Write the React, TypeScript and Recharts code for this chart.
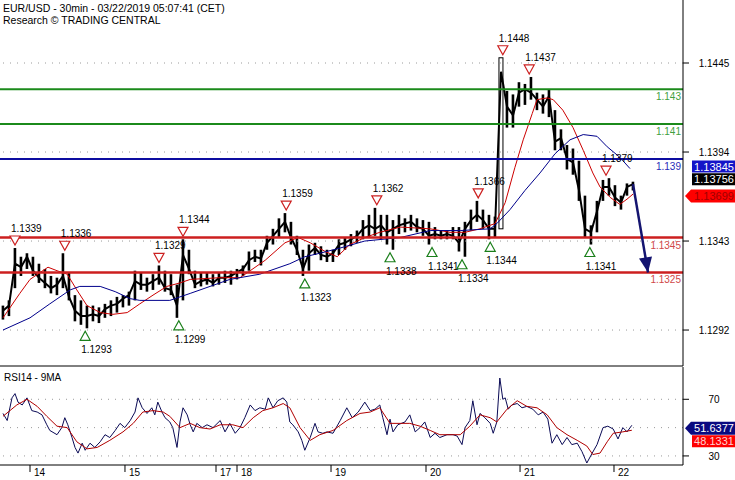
import React from 'react';
import { ComposedChart, Bar, Line, Scatter, XAxis, YAxis, ReferenceLine } from 'recharts';

const FONT = '"Liberation Sans", Arial, sans-serif';

// x unit: one slot = 3 half-hour candles
const SLOT_DOMAIN: [number, number] = [-0.5, 113.33];
const PRICE_DOMAIN: [number, number] = [1.12714, 1.14811];
const RSI_DOMAIN: [number, number] = [23.6, 92.8];

const priceHigh = [
  1.1306, 1.1309, 1.1339, 1.1334, 1.1336, 1.1334, 1.133, 1.1327, 1.1323, 1.1322,
  1.1336, 1.1325, 1.1312, 1.1309, 1.1306, 1.1306, 1.1305, 1.1307, 1.1309, 1.1311,
  1.1312, 1.1314, 1.1326, 1.1325, 1.1322, 1.1324, 1.1329, 1.1326, 1.1324, 1.1318,
  1.1344, 1.1338, 1.1326, 1.1325, 1.1325, 1.1324, 1.1325, 1.1326, 1.1326, 1.1327,
  1.1329, 1.1337, 1.1338, 1.1338, 1.1346, 1.135, 1.1356, 1.1359, 1.1354, 1.1346,
  1.1338, 1.1341, 1.1342, 1.134, 1.1338, 1.1338, 1.1344, 1.1345, 1.1347, 1.1349,
  1.1355, 1.1358, 1.1362, 1.1358, 1.1358, 1.1355, 1.1358, 1.1356, 1.1358, 1.1356,
  1.1355, 1.1354, 1.1351, 1.1349, 1.1349, 1.1351, 1.1351, 1.1354, 1.1361, 1.1366,
  1.1361, 1.1358, 1.1357, 1.1448, 1.1429, 1.1427, 1.1434, 1.1433, 1.1437, 1.1428,
  1.1427, 1.143, 1.1418, 1.1407, 1.1398, 1.1396, 1.1389, 1.1369, 1.1352, 1.1366,
  1.1378, 1.1379, 1.1375, 1.1369, 1.1376, 1.1377,
];
const priceLow = [
  1.1298, 1.13, 1.1316, 1.1323, 1.1327, 1.1323, 1.1319, 1.1316, 1.1313, 1.1312,
  1.1316, 1.1309, 1.1297, 1.1295, 1.1293, 1.1297, 1.1296, 1.1299, 1.13, 1.1302,
  1.1305, 1.1306, 1.1309, 1.1315, 1.1314, 1.1315, 1.1318, 1.1314, 1.1312, 1.1299,
  1.1309, 1.1324, 1.1316, 1.1317, 1.1318, 1.1317, 1.1318, 1.1319, 1.1318, 1.1321,
  1.1323, 1.1326, 1.1331, 1.1329, 1.1338, 1.1341, 1.1345, 1.1348, 1.1341, 1.1335,
  1.1323, 1.1326, 1.1335, 1.1332, 1.1331, 1.1331, 1.1335, 1.1338, 1.134, 1.1342,
  1.1344, 1.1345, 1.1346, 1.1344, 1.1341, 1.1338, 1.1347, 1.1348, 1.1349, 1.1348,
  1.1346, 1.1341, 1.1344, 1.1344, 1.1344, 1.1344, 1.1337, 1.1334, 1.1349, 1.1354,
  1.135, 1.1344, 1.1345, 1.135, 1.1408, 1.1408, 1.142, 1.1421, 1.1424, 1.1418,
  1.1416, 1.1414, 1.1395, 1.1395, 1.1384, 1.1381, 1.1366, 1.1345, 1.1341, 1.1348,
  1.1366, 1.1369, 1.1363, 1.1361, 1.1369, 1.1372,
];
const priceClose = [
  1.1303, 1.1306, 1.133, 1.1328, 1.1334, 1.1326, 1.1322, 1.1319, 1.1316, 1.1318,
  1.1323, 1.1311, 1.1303, 1.13, 1.13, 1.1301, 1.13, 1.1304, 1.1306, 1.1307,
  1.131, 1.1312, 1.132, 1.1318, 1.1318, 1.132, 1.1322, 1.1316, 1.1315, 1.1306,
  1.1335, 1.1327, 1.1318, 1.132, 1.1321, 1.1319, 1.1322, 1.1322, 1.1323, 1.1325,
  1.1327, 1.1332, 1.1334, 1.1333, 1.1342, 1.1346, 1.135, 1.1354, 1.1345, 1.1338,
  1.1327, 1.1336, 1.1339, 1.1335, 1.1334, 1.1336, 1.1341, 1.1342, 1.1344, 1.1346,
  1.135, 1.1352, 1.135, 1.1352, 1.1348, 1.135, 1.1352, 1.1353, 1.1354, 1.1351,
  1.135, 1.1346, 1.1347, 1.1346, 1.1347, 1.1346, 1.1342, 1.135, 1.1355, 1.1358,
  1.1355, 1.135, 1.135, 1.144, 1.142, 1.1415, 1.1428, 1.143, 1.1428, 1.1424,
  1.142, 1.1426, 1.14, 1.1402, 1.139, 1.1388, 1.1372, 1.135, 1.1348, 1.136,
  1.1374, 1.1374, 1.1368, 1.1365, 1.1374, 1.13756,
];

const redMA: [number, number][] = [
  [0, 1.1299], [2.8, 1.1313], [4.5, 1.1321], [6.2, 1.1325], [7.5, 1.1328], [9, 1.1326],
  [10.7, 1.1324], [12.3, 1.1315], [14, 1.1306], [16.2, 1.1302], [18.3, 1.1301], [20.7, 1.1302],
  [22.8, 1.1307], [25, 1.1312], [27.3, 1.1317], [29.5, 1.1319], [31.2, 1.1321], [36.2, 1.1322],
  [39.5, 1.1322], [41.2, 1.1326], [43.7, 1.1332], [47, 1.1342], [49.2, 1.1345], [51.2, 1.1342],
  [53.7, 1.1337], [55.7, 1.1334], [57.8, 1.1341], [60.3, 1.1345], [62.8, 1.1348], [66.2, 1.1351],
  [71.2, 1.135], [74.5, 1.1348], [77, 1.1348], [79.5, 1.135], [82, 1.1353], [83.7, 1.1365],
  [85.3, 1.1385], [86.7, 1.1401], [88.2, 1.1416], [89, 1.1424], [90.7, 1.1425], [91.7, 1.1424],
  [93.3, 1.1418], [95, 1.1408], [96.7, 1.1395], [98.3, 1.1382], [99.5, 1.1374], [101.2, 1.1368],
  [102.8, 1.1364], [104, 1.1367], [105, 1.13699],
];
const blueMA: [number, number][] = [
  [0, 1.1292], [4.5, 1.1299], [7.8, 1.1307], [9.5, 1.1311], [11.2, 1.1315], [12.8, 1.1317],
  [16.2, 1.1317], [18.7, 1.1314], [21.2, 1.131], [22.8, 1.1309], [27.8, 1.1309], [31.2, 1.1313],
  [34.5, 1.1317], [37.8, 1.1321], [42.8, 1.1324], [47.8, 1.133], [50.3, 1.1334], [52.8, 1.1336],
  [56.2, 1.1339], [60.3, 1.1343], [66.2, 1.1345], [71.2, 1.1349], [76.2, 1.1349], [81.2, 1.135],
  [82.3, 1.1353], [84.5, 1.1361], [87, 1.1372], [89.5, 1.1382], [92, 1.1393], [94.5, 1.1401],
  [96.7, 1.1404], [99, 1.1403], [100.7, 1.1397], [102.8, 1.1391], [104.5, 1.13845],
];

const peaks: [number, number][] = [
  [2, 1.1339], [10.3, 1.1336], [26, 1.1329], [30, 1.1344], [47.2, 1.1359],
  [62.3, 1.1362], [79.2, 1.1366], [83.3, 1.1448], [87.7, 1.1437], [100.5, 1.1379],
];
const troughs: [number, number][] = [
  [13.7, 1.1293], [29.3, 1.1299], [50.3, 1.1323], [64.5, 1.1338],
  [71.5, 1.1341], [76.5, 1.1334], [81.2, 1.1344], [97.8, 1.1341],
];

const greenLevels = [1.143, 1.141];
const blueLevels = [1.139];
const redLevels = [1.1345, 1.1325];
const projection: [number, number][] = [[105, 1.13756], [107.5, 1.1325]];

const priceTicks = [1.1292, 1.1343, 1.1394, 1.1445];
const lastBlueMA = 1.13845;
const lastClose = 1.13756;
const lastRedMA = 1.13699;

const rsi: [number, number][] = [
  [0, 60], [0.7, 55], [1.5, 71], [2, 74], [2.5, 68], [3.2, 66], [4, 71], [4.8, 62], [5.7, 61],
  [6.5, 59], [7.3, 52], [7.8, 48], [9, 45], [9.8, 50], [10.3, 57], [10.8, 52], [11.5, 43],
  [12, 36], [12.5, 32], [13.2, 39], [13.7, 34], [14.5, 39], [15.3, 36], [16.2, 40], [17, 45],
  [17.8, 43], [18.7, 48], [19.5, 53], [20.3, 50], [21.2, 55], [22, 61], [22.5, 71], [23.2, 64],
  [24, 60], [24.8, 64], [25.3, 59], [25.8, 68], [26.5, 61], [27, 57], [27.8, 54], [28.3, 50],
  [29, 36], [29.5, 54], [30, 64], [30.7, 59], [31.2, 52], [31.7, 47], [32.3, 53], [33.2, 50],
  [34, 52], [35, 50], [36.2, 55], [37, 47], [37.8, 53], [38.7, 46], [39.5, 50], [40.3, 57],
  [41.2, 66], [42, 62], [42.8, 64], [43.7, 63], [44.2, 71], [45, 64], [45.8, 69], [46.7, 71],
  [47.3, 68], [47.8, 54], [48.3, 52], [49.2, 47], [49.8, 41], [50.3, 34], [51.2, 43], [52, 53],
  [52.5, 47], [53.3, 46], [54, 47], [55, 46], [56.2, 55], [57.3, 64], [58.2, 57], [59.2, 61],
  [60.3, 68], [61.2, 62], [62, 63], [62.8, 66], [63.3, 57], [64, 45], [64.5, 56], [65, 47],
  [65.8, 52], [67, 54], [67.8, 59], [68.7, 47], [69.5, 50], [70.3, 54], [71.2, 43], [72, 46],
  [72.8, 43], [74, 45], [75, 45], [75.7, 44], [76.5, 38], [77, 50], [77.8, 55], [78.3, 69],
  [79, 52], [79.5, 60], [80.3, 57], [81.2, 53], [81.7, 46], [82.3, 54], [82.8, 85], [83.3, 70],
  [83.7, 71], [84.2, 63], [84.8, 66], [85.7, 67], [86.5, 64], [87.3, 65], [88.3, 63], [89.2, 59],
  [90, 61], [90.8, 56], [91.5, 39], [92.3, 45], [93.2, 38], [94, 43], [94.8, 38], [95.7, 39],
  [96.5, 33], [97.3, 25], [98.2, 32], [99, 38], [100, 50], [100.8, 51], [101.7, 49], [102.5, 42],
  [103.3, 50], [104, 47], [104.8, 51.6377],
];
const rsiMA: [number, number][] = [
  [0, 58], [2.3, 66], [4, 70], [5.7, 65], [7.3, 58], [9, 51], [10.7, 50], [12.3, 40], [14, 35],
  [15.7, 36], [17.8, 41], [20, 47], [21.7, 53], [23.3, 61], [25, 62], [26.7, 61], [27.8, 58],
  [29.5, 50], [31.2, 53], [32.8, 50], [34.5, 49], [36.2, 52], [38.3, 52], [40, 50], [41.7, 57],
  [43.3, 62], [45, 64], [46.7, 67], [47.8, 64], [49.5, 50], [51.2, 41], [52.8, 45], [55, 48],
  [57.3, 55], [59.5, 60], [61.2, 61], [62.8, 64], [64.5, 53], [66.2, 53], [67.8, 53], [69.5, 51],
  [71.2, 48], [72.8, 45], [74.5, 45], [76.2, 45], [77.8, 51], [79.5, 59], [81.2, 57], [82.3, 54],
  [84, 63], [85.7, 69], [87.3, 65], [89, 64], [90.7, 59], [92.3, 50], [94, 45], [95.7, 41],
  [97.3, 37], [98.3, 31], [99.5, 32], [100.7, 40], [101.7, 46], [103.3, 47], [104.8, 48.1331],
];
const rsiTicks = [30, 70];
const rsiGrid = [30, 50, 70];

const dayTicks = [4.5, 20.33, 35.5, 39, 54.67, 70.5, 86.17, 101.83];
const dayLabels = ['14', '15', '17', '18', '19', '20', '21', '22'];

const candles = priceHigh.map((h, i) => ({ slot: i, range: [priceLow[i], h], close: priceClose[i] }));
const toPts = (arr: [number, number][]) => arr.map(([slot, v]) => ({ slot, v }));
const toMarks = (arr: [number, number][]) => arr.map(([slot, price]) => ({ slot, price }));

const Candle = (props: any) => {
  const { x, y, width, height } = props;
  const h = Math.max(Math.abs(height), 1);
  const tall = h > 100;
  const mid = x + width / 2;
  return (
    <rect x={mid - (tall ? 2 : 1.3)} y={height < 0 ? y + height : y} width={tall ? 4 : 2.6} height={h}
      fill={tall ? '#fff' : '#000'} stroke="#000" strokeWidth={tall ? 1 : 0} />
  );
};

const PeakMark = (props: any) => {
  const { cx, cy, payload } = props;
  return (
    <g>
      <polygon points={`${cx - 5},${cy - 12} ${cx + 5},${cy - 12} ${cx},${cy - 3}`} fill="#fff" stroke="#cc2020" strokeWidth={1.2} />
      <text x={cx - 4} y={cy - 16} fontSize={10} fill="#000">{payload.price.toFixed(4)}</text>
    </g>
  );
};

const TroughMark = (props: any) => {
  const { cx, cy, payload } = props;
  return (
    <g>
      <polygon points={`${cx - 5},${cy + 12} ${cx + 5},${cy + 12} ${cx},${cy + 3}`} fill="#fff" stroke="#1a7f1a" strokeWidth={1.2} />
      <text x={cx - 4} y={cy + 25} fontSize={10} fill="#000">{payload.price.toFixed(4)}</text>
    </g>
  );
};

const ArrowHead = (props: any) => {
  const { cx, cy, index } = props;
  if (index !== 1) return <g key={`a${index}`} />;
  return (
    <polygon key="head" points={`${cx},${cy} ${cx + 4},${cy - 16} ${cx - 9},${cy - 14}`} fill="#141470" />
  );
};

const PriceTick = ({ x, y, payload }: any) => (
  <text x={x + 25} y={y + 4} textAnchor="middle" fontSize={10} fill="#000">{payload.value.toFixed(4)}</text>
);
const RsiTick = ({ x, y, payload }: any) => (
  <text x={x + 25} y={y + 4} textAnchor="middle" fontSize={10} fill="#000">{payload.value}</text>
);
const DayTick = ({ x, y, payload }: any) => (
  <text x={x + 4} y={y + 4} fontSize={10} fill="#000">{dayLabels[dayTicks.indexOf(payload.value)]}</text>
);

const levelLabel = (text: string, color: string) => (p: any) => (
  <text x={p.viewBox.x + p.viewBox.width - 2} y={p.viewBox.y + 11} textAnchor="end" fontSize={10} fill={color}>{text}</text>
);

const tag = (text: string, bg: string, fg: string, dy: number, arrow: boolean) => (p: any) => {
  const x = p.viewBox.x + p.viewBox.width;
  const y = p.viewBox.y + dy;
  const pts = arrow
    ? `${x + 2},${y} ${x + 8},${y - 6.5} ${x + 52},${y - 6.5} ${x + 52},${y + 6.5} ${x + 8},${y + 6.5}`
    : `${x + 9},${y - 6} ${x + 52},${y - 6} ${x + 52},${y + 6} ${x + 9},${y + 6}`;
  return (
    <g>
      <polygon points={pts} fill={bg} />
      <text x={x + 31} y={y + 4} textAnchor="middle" fontSize={11} fill={fg}>{text}</text>
    </g>
  );
};

export default function App() {
  return (
    <div style={{ position: 'absolute', left: 0, top: 0, width: 735, height: 480, background: '#fff', fontFamily: FONT, overflow: 'hidden' }}>
      <div style={{ position: 'absolute', left: 0, top: 0 }}>
        <ComposedChart width={735} height={367} data={candles} margin={{ top: 0, right: 0, bottom: 0, left: 0 }}>
          <XAxis dataKey="slot" type="number" domain={SLOT_DOMAIN} allowDataOverflow height={1}
            tick={false} tickLine={false} axisLine={{ stroke: '#000' }} />
          <YAxis orientation="right" width={52} domain={PRICE_DOMAIN} allowDataOverflow ticks={priceTicks}
            tick={<PriceTick />} tickSize={6} tickMargin={0} tickLine={{ stroke: '#000' }} axisLine={{ stroke: '#000' }} />
          {priceTicks.map((t) => (
            <ReferenceLine key={`g${t}`} y={t} stroke="#9a9a9a" strokeDasharray="1 6" />
          ))}
          <Bar dataKey="range" barSize={4} shape={Candle} isAnimationActive={false} />
          <Line dataKey="close" stroke="#000" strokeWidth={2} dot={false} activeDot={false} isAnimationActive={false} />
          <Line data={toPts(redMA)} dataKey="v" stroke="#cc0000" strokeWidth={1} dot={false} activeDot={false} isAnimationActive={false} />
          <Line data={toPts(blueMA)} dataKey="v" stroke="#00008b" strokeWidth={1} dot={false} activeDot={false} isAnimationActive={false} />
          {greenLevels.map((v) => (
            <ReferenceLine key={`l${v}`} y={v} stroke="#1b8a1b" strokeWidth={2} label={levelLabel(String(v), '#3f9f3f')} />
          ))}
          {blueLevels.map((v) => (
            <ReferenceLine key={`l${v}`} y={v} stroke="#0d0da0" strokeWidth={2} label={levelLabel(String(v), '#2a2ab8')} />
          ))}
          {redLevels.map((v) => (
            <ReferenceLine key={`l${v}`} y={v} stroke="#cc1f1f" strokeWidth={2.5} label={levelLabel(String(v), '#d04848')} />
          ))}
          <Scatter data={toMarks(peaks)} dataKey="price" shape={PeakMark} isAnimationActive={false} />
          <Scatter data={toMarks(troughs)} dataKey="price" shape={TroughMark} isAnimationActive={false} />
          <Line data={toPts(projection)} dataKey="v" stroke="#141470" strokeWidth={2.5} dot={ArrowHead} activeDot={false} isAnimationActive={false} />
          <ReferenceLine y={lastBlueMA} stroke="none" label={tag(lastBlueMA.toFixed(5), '#1414c8', '#fff', -2, false)} />
          <ReferenceLine y={lastClose} stroke="none" label={tag(lastClose.toFixed(5), '#000', '#fff', -5, false)} />
          <ReferenceLine y={lastRedMA} stroke="none" label={tag(lastRedMA.toFixed(5), '#ff0000', '#a00000', 2, true)} />
        </ComposedChart>
      </div>
      <div style={{ position: 'absolute', left: 0, top: 367 }}>
        <ComposedChart width={735} height={113} margin={{ top: 0, right: 0, bottom: 0, left: 0 }}>
          <XAxis dataKey="slot" type="number" domain={SLOT_DOMAIN} allowDataOverflow ticks={dayTicks} interval={0}
            height={15} tickSize={7} tickMargin={0} tick={<DayTick />} tickLine={{ stroke: '#000' }} axisLine={{ stroke: '#000' }} />
          <YAxis orientation="right" width={52} domain={RSI_DOMAIN} allowDataOverflow ticks={rsiTicks}
            tick={<RsiTick />} tickSize={6} tickMargin={0} tickLine={{ stroke: '#000' }} axisLine={{ stroke: '#000' }} />
          {rsiGrid.map((t) => (
            <ReferenceLine key={`r${t}`} y={t} stroke="#9a9a9a" strokeDasharray="1 6" />
          ))}
          <Line data={toPts(rsi)} dataKey="v" stroke="#0a0a55" strokeWidth={1} dot={false} activeDot={false} isAnimationActive={false} />
          <Line data={toPts(rsiMA)} dataKey="v" stroke="#b00000" strokeWidth={1} dot={false} activeDot={false} isAnimationActive={false} />
          <ReferenceLine y={51.6377} stroke="none" label={tag('51.6377', '#0a0a80', '#fff', 3, true)} />
          <ReferenceLine y={48.1331} stroke="none" label={tag('48.1331', '#ff0000', '#ffd0d0', 11, false)} />
        </ComposedChart>
      </div>
      <div style={{ position: 'absolute', left: 3, top: 2, fontSize: 10.5, lineHeight: '12px', color: '#000' }}>
        <div>EUR/USD - 30min - 03/22/2019 05:07:41 (CET)</div>
        <div>Research © TRADING CENTRAL</div>
      </div>
      <div style={{ position: 'absolute', left: 4, top: 372, fontSize: 10, color: '#000' }}>RSI14 - 9MA</div>
    </div>
  );
}
